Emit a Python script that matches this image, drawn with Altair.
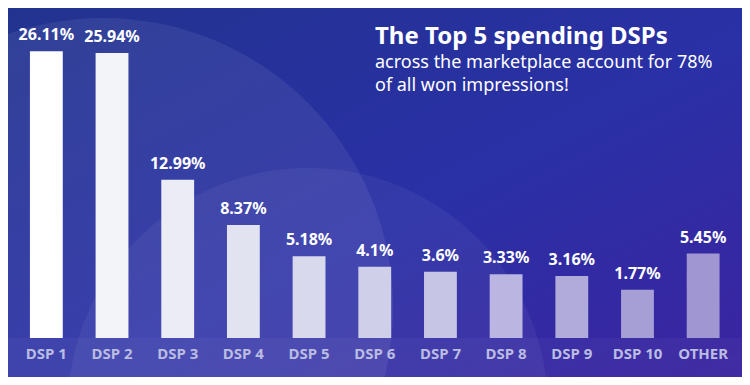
import altair as alt
import pandas as pd

# ---- data ----
categories = ["DSP 1", "DSP 2", "DSP 3", "DSP 4", "DSP 5", "DSP 6",
              "DSP 7", "DSP 8", "DSP 9", "DSP 10", "OTHER"]
shares = [26.11, 25.94, 12.99, 8.37, 5.18, 4.1, 3.6, 3.33, 3.16, 1.77, 5.45]
title_line = "The Top 5 spending DSPs"
subtitle_lines = ["across the marketplace account for 78%", "of all won  impressions!"]

# ---- style ----
bar_colors = ["#ffffff", "#f3f4f9", "#ebecf6", "#e2e3f1", "#d9d9ed", "#d0cfe9",
              "#c7c5e6", "#bbb6e1", "#b1abdc", "#a59fd5", "#9f96d2"]
W, H = 734, 330
FONT = "Noto Sans"

df = pd.DataFrame({
    "cat": categories,
    "share": shares,
    "label": [f"{v}%" for v in shares],
})

y_scale = alt.Scale(domain=[-3.17, 30.54])
x_scale = alt.Scale(domain=categories, range=[5.5, 728], paddingInner=0.5, paddingOuter=0.25)

one = pd.DataFrame({"k": [0]})

bg = alt.Chart(one).mark_rect(
    color=alt.Gradient(
        gradient="linear",
        stops=[alt.GradientStop(color="#22338f", offset=0),
               alt.GradientStop(color="#2a30a6", offset=0.55),
               alt.GradientStop(color="#3b24a0", offset=1)],
        x1=0, y1=0, x2=1, y2=1),
).encode(x=alt.value(0), x2=alt.value(W), y=alt.value(0), y2=alt.value(H + 39))

blob1 = alt.Chart(one).mark_arc(theta=0, theta2=6.2832, radius=290, color="white", opacity=0.07
                                ).encode(x=alt.value(95), y=alt.value(300))
blob2 = alt.Chart(one).mark_arc(theta=0, theta2=6.2832, radius=240, color="white", opacity=0.05
                                ).encode(x=alt.value(300), y=alt.value(400))

strip = alt.Chart(one).mark_rect(color="white", opacity=0.035).encode(
    x=alt.value(0), x2=alt.value(W), y=alt.value(H), y2=alt.value(H + 39))

base = alt.Chart(df)

bars = base.mark_bar().encode(
    x=alt.X("cat:N", scale=x_scale, sort=categories,
            axis=alt.Axis(title=None, domain=False, ticks=False, labelAngle=0, zindex=1,
                          labelFont=FONT, labelFontSize=15, labelFontWeight="bold",
                          labelColor="#babce2", labelPadding=20, labelBaseline="alphabetic")),
    y=alt.Y("share:Q", scale=y_scale, axis=None),
    y2=alt.datum(-3.17),
    color=alt.Color("cat:N", scale=alt.Scale(domain=categories, range=bar_colors), legend=None),
)

labels = base.mark_text(font=FONT, fontSize=16, fontWeight="bold", color="white",
                        baseline="alphabetic", dy=-11).encode(
    x=alt.X("cat:N", scale=x_scale, sort=categories),
    y=alt.Y("share:Q", scale=y_scale, axis=None),
    text="label:N",
)


def text_layer(txt, x, y, size, weight, color):
    return alt.Chart(pd.DataFrame({"t": [txt]})).mark_text(
        font=FONT, fontSize=size, fontWeight=weight, color=color,
        align="left", baseline="alphabetic", lineBreak="\n", lineHeight=22.7).encode(
        x=alt.value(x), y=alt.value(y), text="t:N")


subtitle = "\n".join(subtitle_lines)
texts = [
    text_layer(title_line, 367, 35.5, 24, "bold", "white"),
    text_layer(subtitle, 367, 60.3, 18, "normal", "white"),
]

chart = alt.layer(bg, blob1, blob2, strip, bars, labels, *texts).properties(
    width=W, height=H,
    autosize=alt.AutoSizeParams(type="none"),
    padding={"left": 0, "top": 0, "right": 0, "bottom": 39},
).configure_view(stroke=None)

chart.save("out.html", embed_options={"renderer": "svg", "actions": False})
